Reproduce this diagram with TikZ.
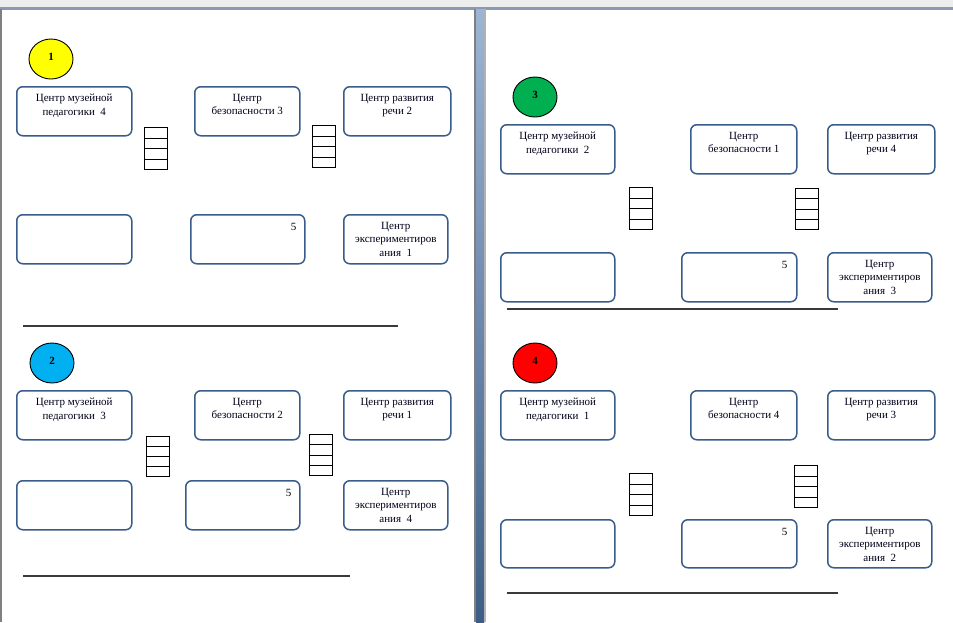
\documentclass[tikz,border=0pt]{standalone}
\usepackage{fontspec}
\setmainfont{Liberation Serif}
\usetikzlibrary{shapes.geometric,calc}
\definecolor{boxblue}{HTML}{385D8A}
\definecolor{topgray}{HTML}{EEEEEE}
\definecolor{topline}{HTML}{8A9AB4}
\definecolor{edgegray}{HTML}{808080}
\definecolor{gaptop}{HTML}{9DB5D5}
\definecolor{gapbot}{HTML}{3E5D86}
\definecolor{rulegray}{HTML}{3A3A3A}
\definecolor{cyellow}{HTML}{FFFF00}
\definecolor{cblue}{HTML}{00B0F0}
\definecolor{cgreen}{HTML}{00B050}
\definecolor{cred}{HTML}{FF0000}
\begin{document}
\begin{tikzpicture}[x=1pt,y=-1pt,
  cbox/.style={draw=boxblue, line width=1.5pt, rounded corners=6pt, fill=white,
    inner sep=0pt, anchor=north west, minimum height=49pt},
  ctext/.style={font=\fontsize{11}{13.5}\selectfont, text=black!90!blue, align=center, inner sep=0pt, anchor=north},
  cnum/.style={font=\fontsize{11}{13}\selectfont, inner sep=0pt},
  ladderbox/.style={draw=black, line width=1.2pt, inner sep=0pt, anchor=north west,
    minimum width=23pt, minimum height=42pt,
    path picture={\foreach \i in {1,2,3}
      \draw[line width=1.1pt] ($(path picture bounding box.north west)!\i/4!(path picture bounding box.south west)$)
        -- ($(path picture bounding box.north east)!\i/4!(path picture bounding box.south east)$);}},
  badge/.style={ellipse, draw=black, line width=0.9pt, minimum width=44pt, minimum height=40pt,
    inner sep=0pt, font=\fontsize{11}{13}\selectfont\bfseries},
  sepline/.style={draw=rulegray, line width=1.4pt}
]
\useasboundingbox (0,0) rectangle (953,622);
% background / page frames
\fill[white] (0,0) rectangle (953,622);
\fill[topgray] (0,0) rectangle (953,7);
\fill[topline] (0,7) rectangle (953,9.5);
\fill[edgegray] (0,9) rectangle (2,622);
\fill[edgegray] (474,9) rectangle (476,622);
\shade[top color=gaptop, bottom color=gapbot] (476,9) rectangle (484,622);
\fill[gray!60] (484,9) rectangle (485.5,622);

% ---------- panel 1 ----------
\node[badge, fill=cyellow] (p1c) at (51,59) {\raisebox{5pt}{1}};
\node[cbox, minimum width=115pt] (p1a) at (16,86) {};
\node[cbox, minimum width=105pt] (p1b) at (194,86) {};
\node[cbox, minimum width=107pt] (p1cc) at (343,86) {};
\node[cbox, minimum width=115pt] (p1d) at (16,214) {};
\node[cbox, minimum width=114pt] (p1e) at (190,214) {};
\node[cbox, minimum width=104pt] (p1f) at (343,214) {};
\node[ctext] (p1at) at ($(p1a.north)+(0,8)$) {Центр музейной\\педагогики~~4};
\node[ctext] (p1bt) at ($(p1b.north)+(0,8)$) {Центр\\безопасности 3};
\node[ctext] (p1ct) at ($(p1cc.north)+(0,8)$) {Центр развития\\речи 2};
\node[ctext] (p1ft) at ($(p1f.north)+(0,8)$) {Центр\\экспериментиров\\ания~~1};
\node[cnum] (p1n) at ($(p1e.north east)+(-12,13)$) {5};
\node[ladderbox] (p1l1) at (144,127) {};
\node[ladderbox] (p1l2) at (312,125) {};
\coordinate (p1s) at (23,326); \coordinate (p1t) at (398,326);
\draw[sepline] (p1s) -- (p1t);

% ---------- panel 2 ----------
\node[badge, fill=cblue] (p2c) at (52,363) {\raisebox{5pt}{2}};
\node[cbox, minimum width=115pt] (p2a) at (16,390) {};
\node[cbox, minimum width=105pt] (p2b) at (194,390) {};
\node[cbox, minimum width=107pt] (p2cc) at (343,390) {};
\node[cbox, minimum width=115pt] (p2d) at (16,480) {};
\node[cbox, minimum width=114pt] (p2e) at (185,480) {};
\node[cbox, minimum width=104pt] (p2f) at (343,480) {};
\node[ctext] (p2at) at ($(p2a.north)+(0,8)$) {Центр музейной\\педагогики~~3};
\node[ctext] (p2bt) at ($(p2b.north)+(0,8)$) {Центр\\безопасности 2};
\node[ctext] (p2ct) at ($(p2cc.north)+(0,8)$) {Центр развития\\речи 1};
\node[ctext] (p2ft) at ($(p2f.north)+(0,8)$) {Центр\\экспериментиров\\ания~~4};
\node[cnum] (p2n) at ($(p2e.north east)+(-12,13)$) {5};
\node[ladderbox, minimum height=40pt] (p2l1) at (146,436) {};
\node[ladderbox, minimum height=41pt] (p2l2) at (309,434) {};
\coordinate (p2s) at (23,576); \coordinate (p2t) at (350,576);
\draw[sepline] (p2s) -- (p2t);

% ---------- panel 3 ----------
\node[badge, fill=cgreen] (p3c) at (535,97) {\raisebox{5pt}{3}};
\node[cbox, minimum width=114pt] (p3a) at (500,124) {};
\node[cbox, minimum width=106pt] (p3b) at (690,124) {};
\node[cbox, minimum width=107pt] (p3cc) at (827,124) {};
\node[cbox, minimum width=114pt] (p3d) at (500,252) {};
\node[cbox, minimum width=115pt] (p3e) at (681,252) {};
\node[cbox, minimum width=104pt] (p3f) at (827,252) {};
\node[ctext] (p3at) at ($(p3a.north)+(0,8)$) {Центр музейной\\педагогики~~2};
\node[ctext] (p3bt) at ($(p3b.north)+(0,8)$) {Центр\\безопасности 1};
\node[ctext] (p3ct) at ($(p3cc.north)+(0,8)$) {Центр развития\\речи 4};
\node[ctext] (p3ft) at ($(p3f.north)+(0,8)$) {Центр\\экспериментиров\\ания~~3};
\node[cnum] (p3n) at ($(p3e.north east)+(-13,13)$) {5};
\node[ladderbox] (p3l1) at (629,187) {};
\node[ladderbox, minimum height=41pt] (p3l2) at (795,188) {};
\coordinate (p3s) at (507,309); \coordinate (p3t) at (838,309);
\draw[sepline] (p3s) -- (p3t);

% ---------- panel 4 ----------
\node[badge, fill=cred] (p4c) at (535,363) {\raisebox{5pt}{4}};
\node[cbox, minimum width=114pt] (p4a) at (500,390) {};
\node[cbox, minimum width=106pt] (p4b) at (690,390) {};
\node[cbox, minimum width=107pt] (p4cc) at (827,390) {};
\node[cbox, minimum width=114pt, minimum height=48pt] (p4d) at (500,519) {};
\node[cbox, minimum width=115pt, minimum height=48pt] (p4e) at (681,519) {};
\node[cbox, minimum width=104pt, minimum height=48pt] (p4f) at (827,519) {};
\node[ctext] (p4at) at ($(p4a.north)+(0,8)$) {Центр музейной\\педагогики~~1};
\node[ctext] (p4bt) at ($(p4b.north)+(0,8)$) {Центр\\безопасности 4};
\node[ctext] (p4ct) at ($(p4cc.north)+(0,8)$) {Центр развития\\речи 3};
\node[ctext] (p4ft) at ($(p4f.north)+(0,8)$) {Центр\\экспериментиров\\ания~~2};
\node[cnum] (p4n) at ($(p4e.north east)+(-13,13)$) {5};
\node[ladderbox] (p4l1) at (629,473) {};
\node[ladderbox] (p4l2) at (794,465) {};
\coordinate (p4s) at (507,593); \coordinate (p4t) at (838,593);
\draw[sepline] (p4s) -- (p4t);
\end{tikzpicture}
\end{document}
